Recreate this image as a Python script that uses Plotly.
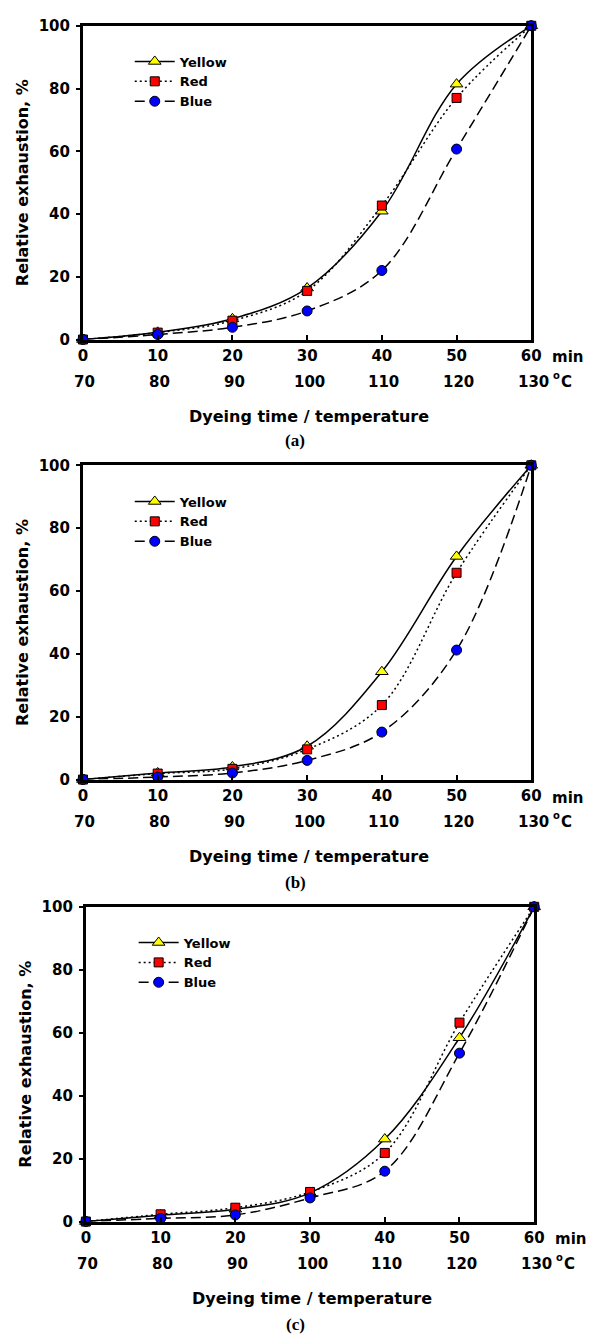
import plotly.graph_objects as go

W, H = 591, 1344

times = [0, 10, 20, 30, 40, 50, 60]
temps = [70, 80, 90, 100, 110, 120, 130]
y_ticks = [0, 20, 40, 60, 80, 100]

a_yellow = [0, 2.3, 6.6, 16.4, 40.9, 81.4, 100]
a_red = [0, 2.2, 6.0, 15.5, 42.7, 77.0, 100]
a_blue = [0, 1.6, 3.9, 9.1, 22.0, 60.7, 100]

b_yellow = [0, 2.1, 4.0, 10.6, 34.3, 71.0, 100]
b_red = [0, 1.9, 3.4, 9.6, 23.7, 65.8, 100]
b_blue = [0, 0.8, 2.1, 6.1, 15.1, 41.2, 100]

c_yellow = [0, 2.0, 3.9, 9.1, 26.2, 58.4, 100]
c_red = [0, 2.3, 4.4, 9.4, 21.8, 63.2, 100]
c_blue = [0, 1.0, 2.1, 7.5, 16.0, 53.5, 100]

series_names = ["Yellow", "Red", "Blue"]
panel_labels = ["(a)", "(b)", "(c)"]
panels_data = [
    (a_yellow, a_red, a_blue),
    (b_yellow, b_red, b_blue),
    (c_yellow, c_red, c_blue),
]

FONT = "DejaVu Sans"


def px(x):
    return x / W


def py(y):
    return 1 - y / H


# pixel layout of each panel: (left, right, top, bottom, row1, row2, title, label, legend_x, legend_top)
layout_px = [
    (80, 540, 17, 335, 353, 378, 413, 437, 128, 38),
    (80, 540, 462.5, 781, 800, 824, 859, 885, 128, 484),
    (83, 543, 910, 1229, 1247, 1272, 1307, 1333, 132, 931),
]

styles = [
    dict(symbol="triangle-up", color="#FFFF00", size=11, dash="solid"),
    dict(symbol="square", color="#FF0000", size=9, dash="2px,3px"),
    dict(symbol="circle", color="#0000FF", size=10, dash="10px,5px"),
]

fig = go.Figure()
annotations = []
layout_axes = {}

for i, (data, lab, lp) in enumerate(zip(panels_data, panel_labels, layout_px)):
    left, right, top, bottom, r1, r2, ttl, lbl, lgx, lgy = lp
    sfx = "" if i == 0 else str(i + 1)
    xa, ya = "x" + sfx, "y" + sfx
    legend_name = "legend" + sfx
    for name, vals, st in zip(series_names, data, styles):
        fig.add_trace(go.Scatter(
            x=times, y=vals, name=name, mode="lines+markers",
            xaxis=xa, yaxis=ya, legend=legend_name, cliponaxis=False,
            line=dict(color="black", width=1.5, dash=st["dash"], shape="spline", smoothing=1.0),
            marker=dict(symbol=st["symbol"], color=st["color"], size=st["size"],
                        line=dict(color="black", width=1)),
        ))
    layout_axes["xaxis" + sfx] = dict(
        domain=[px(left), px(right)], anchor=ya, range=[0, 60],
        tickvals=times, ticktext=[str(t) for t in times],
        tickfont=dict(family=FONT, size=15, color="black", weight="bold"),
        showgrid=False, zeroline=False, showline=True, linecolor="black",
        linewidth=3, mirror=True, ticks="inside", ticklen=5, tickwidth=1.5,
        tickcolor="black", ticklabelstandoff=0,
    )
    layout_axes["yaxis" + sfx] = dict(
        domain=[py(bottom), py(top)], anchor=xa, range=[0, 100],
        tickvals=y_ticks, ticktext=[str(t) for t in y_ticks],
        tickfont=dict(family=FONT, size=15, color="black", weight="bold"),
        showgrid=False, zeroline=False, showline=True, linecolor="black",
        linewidth=3, mirror=True, ticks="outside", ticklen=4, tickwidth=1.5,
        tickcolor="black", ticklabelstandoff=3,
    )
    layout_axes[legend_name] = dict(
        x=px(lgx), y=py(lgy), xanchor="left", yanchor="top",
        bgcolor="rgba(0,0,0,0)", borderwidth=0,
        font=dict(family=FONT, size=13, color="black", weight="bold"),
        tracegroupgap=0, itemwidth=40,
    )
    # temperature row
    for t, tv in zip(times, temps):
        annotations.append(dict(
            x=t, xref=xa, y=py(r2), yref="paper", text="<b>%d</b>" % tv,
            showarrow=False, xanchor="center", yanchor="middle", xshift=2,
            font=dict(family=FONT, size=15, color="black"),
        ))
    annotations.append(dict(
        x=px(right + 37), y=py(r1), xref="paper", yref="paper", text="<b>min</b>",
        showarrow=False, xanchor="center", yanchor="middle",
        font=dict(family=FONT, size=15, color="black"),
    ))
    annotations.append(dict(
        x=px(right + 26), y=py(r2 - 7), xref="paper", yref="paper", text="<b>o</b>",
        showarrow=False, xanchor="center", yanchor="middle",
        font=dict(family=FONT, size=10, color="black"),
    ))
    annotations.append(dict(
        x=px(right + 36), y=py(r2), xref="paper", yref="paper", text="<b>C</b>",
        showarrow=False, xanchor="center", yanchor="middle",
        font=dict(family=FONT, size=15, color="black"),
    ))
    annotations.append(dict(
        x=px((left + right) / 2 + 2), y=py(ttl), xref="paper", yref="paper",
        text="<b>Dyeing time / temperature</b>",
        showarrow=False, xanchor="center", yanchor="middle",
        font=dict(family=FONT, size=16, color="black"),
    ))
    annotations.append(dict(
        x=px(18 + (left - 80)), y=py((top + bottom) / 2), xref="paper", yref="paper",
        text="<b>Relative exhaustion, %</b>", textangle=-90,
        showarrow=False, xanchor="center", yanchor="middle",
        font=dict(family=FONT, size=16, color="black"),
    ))
    annotations.append(dict(
        x=px(298), y=py(lbl), xref="paper", yref="paper",
        text="<b>%s</b>" % lab,
        showarrow=False, xanchor="center", yanchor="middle",
        font=dict(family="Liberation Serif", size=17, color="black"),
    ))

fig.update_layout(
    width=W, height=H, autosize=False,
    margin=dict(l=0, r=0, t=0, b=0),
    paper_bgcolor="white", plot_bgcolor="white",
    showlegend=True,
    annotations=annotations,
    **layout_axes,
)

fig.write_html("out.html")
